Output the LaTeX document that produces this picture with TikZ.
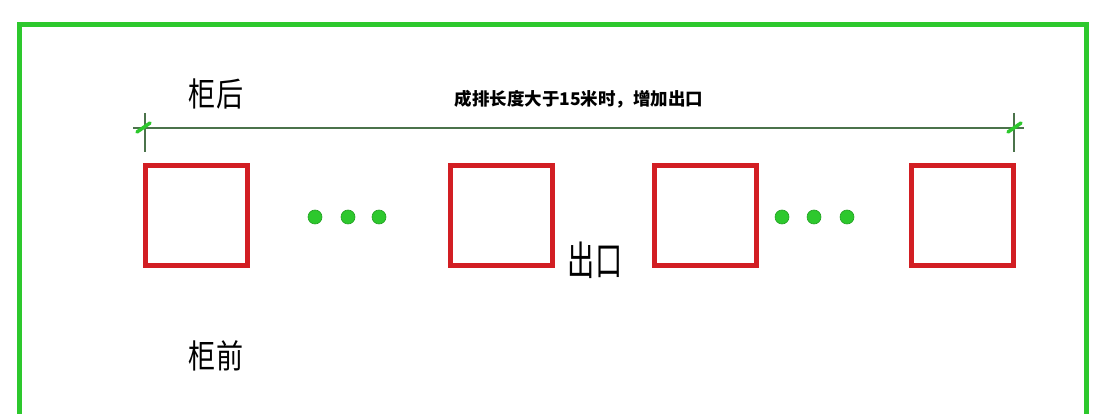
\documentclass[tikz,border=0pt]{standalone}
\usepackage{fontspec}
\newfontfamily\cjk{Noto Sans CJK SC}
\definecolor{frameg}{RGB}{45,200,45}
\definecolor{dimg}{RGB}{75,115,75}
\definecolor{boxred}{RGB}{210,30,35}
\tikzset{
  cabinet/.style={draw=boxred, line width=5pt, minimum width=102pt, minimum height=100pt, inner sep=0pt},
  dotmark/.style={circle, fill=frameg, draw=frameg!80!black, line width=0.6pt, minimum size=14pt, inner sep=0pt},
  tick/.style={draw=frameg, line width=3.5pt, line cap=round},
  dimline/.style={draw=dimg, line width=1.6pt},
  bigtxt/.style={font=\cjk\fontsize{33}{33}\selectfont, xscale=0.82, inner sep=0pt},
  midtxt/.style={font=\cjk\fontsize{40}{40}\selectfont, xscale=0.68, inner sep=0pt},
  toptxt/.style={font=\cjk\bfseries\fontsize{17.5}{17.5}\selectfont, inner sep=0pt}
}
\begin{document}
\begin{tikzpicture}[x=1pt, y=-1pt]
\useasboundingbox[fill=white] (0,0) rectangle (1106,414);
% frame
\draw[frameg, line width=5pt] (19,414) -- (19,25) -- (1086,25) -- (1086,414);
% cabinets
\node[cabinet] (b1) at (196,215.5) {};
\node[cabinet] (b2) at (501.5,215.5) {};
\node[cabinet] (b3) at (705,215.5) {};
\node[cabinet] (b4) at (962.5,215.5) {};
% dots
\node[dotmark] (d1) at (315,217) {};
\node[dotmark] (d2) at (348,217) {};
\node[dotmark] (d3) at (379,217) {};
\node[dotmark] (d4) at (782,217) {};
\node[dotmark] (d5) at (814,217) {};
\node[dotmark] (d6) at (847,217) {};
% dimension
\coordinate (dl) at (145,128);
\coordinate (dr) at (1014,128);
\draw[dimline] ([xshift=-12pt]dl) -- ([xshift=10pt]dr);
\draw[dimline] ([yshift=15pt]dl) -- ([yshift=-24pt]dl);
\draw[dimline] ([yshift=15pt]dr) -- ([yshift=-24pt]dr);
\draw[tick] ([xshift=-8pt,yshift=-4pt]dl) -- ([xshift=5pt,yshift=5pt]dl);
\draw[tick] ([xshift=-6pt,yshift=-4pt]dr) -- ([xshift=7pt,yshift=5pt]dr);
% texts
\node[toptxt] (t) at (579,99) {成排长度大于15米时，增加出口};
\node[bigtxt] (back) at (216,94) {柜后};
\node[bigtxt] (front) at (216,356) {柜前};
\node[midtxt] (exit) at (595,260) {出口};
\end{tikzpicture}
\end{document}
